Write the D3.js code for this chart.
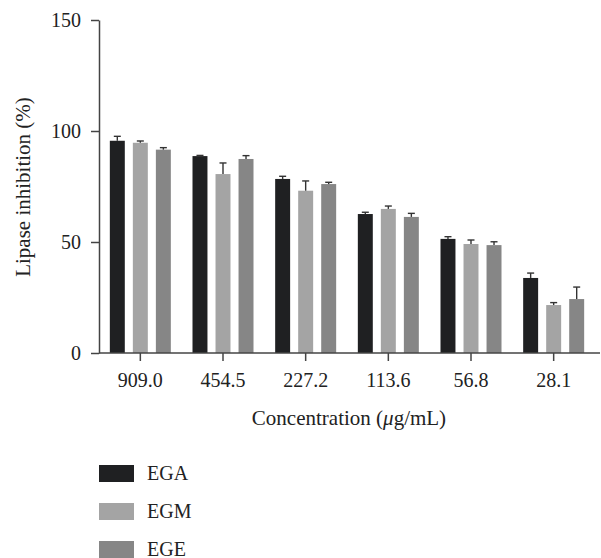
<!DOCTYPE html>
<html>
<head>
<meta charset="utf-8">
<script src="https://cdn.jsdelivr.net/npm/d3@7"></script>
<style>
  body { margin: 0; background: #fff; }
</style>
</head>
<body>
<div class="canvas"></div>
<script>
// data
const concentrations = ["909.0", "454.5", "227.2", "113.6", "56.8", "28.1"];
const seriesNames = ["EGA", "EGM", "EGE"];
const egaValues = [95.6, 88.7, 78.4, 62.6, 51.4, 33.8];
const egmValues = [94.7, 80.6, 73.1, 64.9, 49.1, 21.6];
const egeValues = [91.6, 87.4, 76.1, 61.3, 48.6, 24.3];
const egaErrors = [2.0, 0.3, 1.2, 0.8, 1.0, 2.2];
const egmErrors = [0.8, 5.0, 4.4, 1.3, 1.8, 1.1];
const egeErrors = [0.9, 1.5, 0.8, 1.6, 1.5, 5.4];
const yTicks = [0, 50, 100, 150];

const width = 601;
const height = 558;
const font = "'Liberation Serif', 'Times New Roman', serif";
const axisColor = "#444";
const textColor = "#222";

const color = d3.scaleOrdinal(seriesNames, ["#1f2022", "#a4a4a4", "#868686"]);

const values = { EGA: egaValues, EGM: egmValues, EGE: egeValues };
const errors = { EGA: egaErrors, EGM: egmErrors, EGE: egeErrors };
const rows = concentrations.map((c, i) => ({
  conc: c,
  bars: seriesNames.map(s => ({ key: s, value: values[s][i], err: errors[s][i] }))
}));

const svg = d3.select(".canvas")
  .append("svg")
  .attr("width", width)
  .attr("height", height)
  .style("font-family", font);

const x0 = d3.scaleBand()
  .domain(concentrations)
  .range([99, 595])
  .paddingInner(0)
  .paddingOuter(0);

const groupWidth = 61;
const x1 = d3.scaleBand()
  .domain(seriesNames)
  .range([0, groupWidth])
  .paddingInner(0.35);

const y = d3.scaleLinear()
  .domain([0, 150])
  .range([353, 20]);

// bars
const group = svg.append("g")
  .selectAll("g")
  .data(rows)
  .join("g")
  .attr("transform", d => `translate(${x0(d.conc) + (x0.bandwidth() - groupWidth) / 2},0)`);

group.selectAll("rect")
  .data(d => d.bars)
  .join("rect")
  .attr("x", d => x1(d.key))
  .attr("y", d => y(d.value))
  .attr("width", x1.bandwidth())
  .attr("height", d => y(0) - y(d.value))
  .attr("fill", d => color(d.key));

// error bars (upper only)
const err = group.selectAll("g.err")
  .data(d => d.bars)
  .join("g")
  .attr("class", "err")
  .attr("stroke", "#333")
  .attr("stroke-width", 1.4);

err.append("line")
  .attr("x1", d => x1(d.key) + x1.bandwidth() / 2)
  .attr("x2", d => x1(d.key) + x1.bandwidth() / 2)
  .attr("y1", d => y(d.value))
  .attr("y2", d => y(d.value + d.err));

err.append("line")
  .attr("x1", d => x1(d.key) + x1.bandwidth() / 2 - 3.5)
  .attr("x2", d => x1(d.key) + x1.bandwidth() / 2 + 3.5)
  .attr("y1", d => y(d.value + d.err))
  .attr("y2", d => y(d.value + d.err));

// y axis
const yAxis = svg.append("g")
  .attr("transform", "translate(99,0)")
  .call(d3.axisLeft(y).tickValues(yTicks).tickSize(8).tickPadding(10).tickSizeOuter(0));

// x axis
const xAxis = svg.append("g")
  .attr("transform", "translate(0,353)")
  .call(d3.axisBottom(x0).tickSize(8).tickPadding(12).tickSizeOuter(0));

xAxis.select(".domain").attr("d", "M99,0H600");

[yAxis, xAxis].forEach(a => {
  a.select(".domain").attr("stroke", axisColor).attr("stroke-width", 1.5);
  a.selectAll(".tick line").attr("stroke", axisColor).attr("stroke-width", 1.5);
  a.selectAll(".tick text")
    .attr("fill", textColor)
    .style("font-family", font)
    .style("font-size", "20px");
});

// axis titles
svg.append("text")
  .attr("transform", "translate(30,187) rotate(-90)")
  .attr("text-anchor", "middle")
  .attr("fill", textColor)
  .style("font-size", "21px")
  .text("Lipase inhibition (%)");

const xTitle = svg.append("text")
  .attr("x", 349)
  .attr("y", 425)
  .attr("text-anchor", "middle")
  .attr("fill", textColor)
  .style("font-size", "21px");
xTitle.append("tspan").text("Concentration (");
xTitle.append("tspan").style("font-style", "italic").text("μ");
xTitle.append("tspan").text("g/mL)");

// legend
const legend = svg.append("g")
  .selectAll("g")
  .data(seriesNames)
  .join("g")
  .attr("transform", (d, i) => `translate(99,${465 + i * 38})`);

legend.append("rect")
  .attr("width", 35)
  .attr("height", 17)
  .attr("fill", d => color(d));

legend.append("text")
  .attr("x", 48)
  .attr("y", 15)
  .attr("fill", textColor)
  .style("font-size", "20px")
  .text(d => d);
</script>
</body>
</html>
